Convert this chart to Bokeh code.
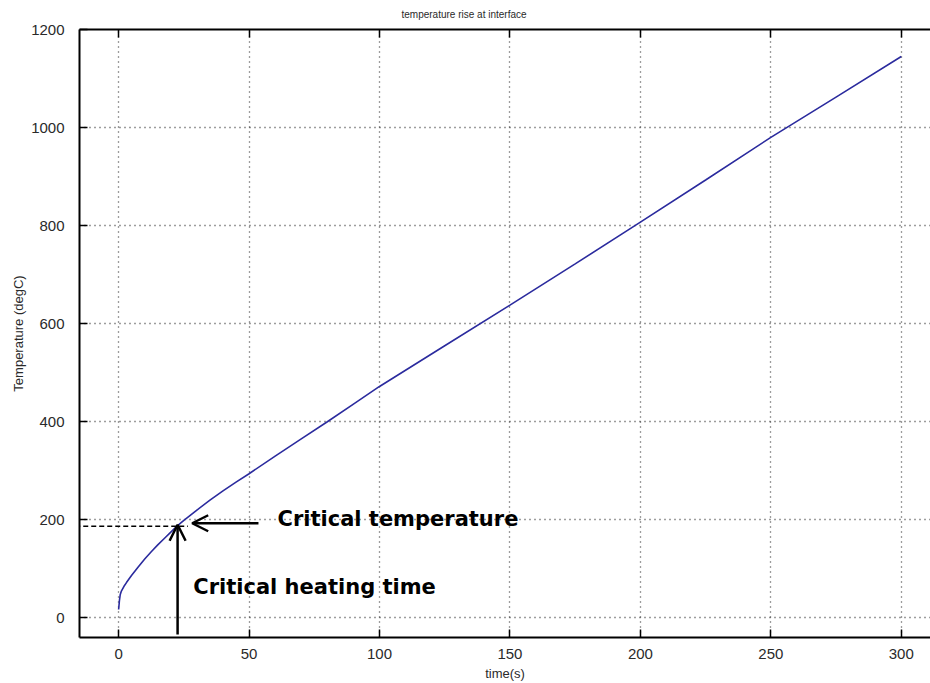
from bokeh.plotting import figure
from bokeh.models import (Range1d, LinearAxis, SingleIntervalTicker, Arrow, OpenHead,
                          Label, Title, ColumnDataSource)
from bokeh.embed import file_html
from bokeh.resources import INLINE

# ---- data ----
time_s = [0, 0.3, 0.6, 1, 2, 3, 5, 7.5, 10, 12.5, 15, 17.5, 20, 22.6, 25, 30, 35, 40, 45,
          50, 60, 70, 80, 90, 100, 125, 150, 175, 200, 225, 250, 275, 300]
temp_c = [17, 35, 47, 54, 64, 72, 87, 104, 120, 135, 149, 162, 175, 188, 199, 220, 240, 259, 277,
          294, 330, 365, 400, 436, 472, 555, 638, 722, 807, 893, 980, 1062, 1145]

x_ticks_interval = 50
y_ticks_interval = 200

critical_time = 22.6
critical_temp = 187

title_text = "temperature rise at interface"
x_label = "time(s)"
y_label = "Temperature (degC)"
label_temp = "Critical temperature"
label_time = "Critical heating time"

FONT = "Liberation Sans"
BOLD_FONT = "DejaVu Sans"

p = figure(width=930, height=683, output_backend="svg", toolbar_location=None,
           x_range=Range1d(-15, 311.2), y_range=Range1d(-40, 1200),
           x_axis_location=None, y_axis_location=None)
p.min_border_left = 79
p.min_border_top = 29
p.min_border_bottom = 45
p.min_border_right = 0
p.outline_line_color = None
p.background_fill_color = "white"
p.border_fill_color = "white"

xt = SingleIntervalTicker(interval=x_ticks_interval)
yt = SingleIntervalTicker(interval=y_ticks_interval)

def style_axis(ax, show_labels=True):
    ax.axis_line_color = "black"
    ax.axis_line_width = 2
    ax.major_tick_in = 8
    ax.major_tick_out = 0
    ax.major_tick_line_color = "black"
    ax.major_tick_line_width = 1.5
    ax.minor_tick_line_color = None
    ax.major_label_text_font = FONT
    ax.major_label_text_font_size = "15px"
    ax.major_label_text_color = "#2a2a2a"
    ax.axis_label_text_font = FONT
    ax.axis_label_text_font_size = "13px"
    ax.axis_label_text_font_style = "normal"
    ax.axis_label_text_color = "#2a2a2a"
    if not show_labels:
        ax.major_label_text_font_size = "0px"
        ax.major_label_text_color = None

xb = LinearAxis(ticker=xt, axis_label=x_label)
style_axis(xb)
xb.major_label_standoff = 7
xb.axis_label_standoff = 4
p.add_layout(xb, "below")

yl = LinearAxis(ticker=yt, axis_label=y_label)
style_axis(yl)
yl.major_label_standoff = 11
yl.axis_label_standoff = 2
p.add_layout(yl, "left")

xtop = LinearAxis(ticker=xt)
style_axis(xtop, show_labels=False)
xtop.major_label_standoff = 0
p.add_layout(xtop, "above")

p.add_layout(Title(text=title_text, align="left", offset=322, text_font=FONT,
                   text_font_size="10px", text_font_style="normal", text_color="#2a2a2a",
                   standoff=12), "above")

p.xgrid.ticker = xt
p.ygrid.ticker = yt
for g in (p.xgrid, p.ygrid):
    g.grid_line_color = "#3a3a3a"
    g.grid_line_dash = "1 4"
    g.grid_line_width = 1.3

src = ColumnDataSource(dict(t=time_s, T=temp_c))
p.line("t", "T", source=src, line_color="#2b2b9e", line_width=1.6)

# dashed line marking critical temperature
p.add_layout(Arrow(x_start=-19.7, y_start=critical_temp, x_end=critical_time + 4, y_end=critical_temp,
                   start=None, end=None, line_color="black", line_width=1.5, line_dash="5 3"))
# horizontal arrow pointing at the critical point
p.add_layout(Arrow(x_start=critical_time + 31, y_start=critical_temp + 6,
                   x_end=critical_time + 5.6, y_end=critical_temp + 6,
                   end=OpenHead(size=16, line_width=2.5, line_color="black"),
                   line_color="black", line_width=2.5))
# vertical arrow pointing at the critical point
p.add_layout(Arrow(x_start=critical_time, y_start=-34, x_end=critical_time, y_end=critical_temp + 3,
                   end=OpenHead(size=16, line_width=2.5, line_color="black"),
                   line_color="black", line_width=2.5))

p.add_layout(Label(x=critical_time + 38.3, y=critical_temp + 15, text=label_temp,
                   text_font=BOLD_FONT, text_font_size="21px", text_font_style="bold",
                   text_color="black", text_baseline="middle", text_align="left"))
p.add_layout(Label(x=critical_time + 6, y=62, text=label_time,
                   text_font=BOLD_FONT, text_font_size="21px", text_font_style="bold",
                   text_color="black", text_baseline="middle", text_align="left"))

open("out.html", "w").write(file_html(p, INLINE))
